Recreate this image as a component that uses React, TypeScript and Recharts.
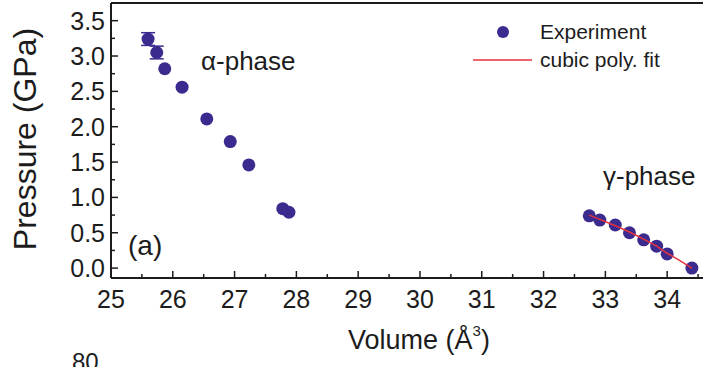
import React from "react";
import { ComposedChart, Scatter, XAxis, YAxis, ErrorBar, ReferenceLine } from "recharts";

const FONT = "'Liberation Sans', Arial, Helvetica, sans-serif";
const INK = "#1c1c1c";
const PURPLE = "#3b2b8f";
const RED = "#e8323c";

// alpha-phase experiment
const alphaVolume = [25.6, 25.74, 25.87, 26.15, 26.55, 26.93, 27.23, 27.78, 27.88];
const alphaPressure = [3.24, 3.05, 2.82, 2.56, 2.11, 1.79, 1.46, 0.84, 0.79];
const alphaError = [0.09, 0.09, 0, 0, 0, 0, 0, 0, 0];

// gamma-phase experiment
const gammaVolume = [32.74, 32.91, 33.16, 33.39, 33.62, 33.83, 34.0, 34.4];
const gammaPressure = [0.74, 0.68, 0.61, 0.5, 0.4, 0.31, 0.2, 0.0];
const gammaError = [0, 0, 0, 0, 0, 0, 0, 0];

// cubic polynomial fit (gamma phase)
const fitVolume = [32.74, 32.91, 33.16, 33.39, 33.62, 33.83, 34.0, 34.2, 34.4];
const fitPressure = [0.75, 0.69, 0.6, 0.51, 0.41, 0.31, 0.21, 0.11, 0.0];

const xTicks = [25, 25.5, 26, 26.5, 27, 27.5, 28, 28.5, 29, 29.5, 30, 30.5, 31, 31.5, 32, 32.5, 33, 33.5, 34, 34.5];
const yTicks = [0, 0.25, 0.5, 0.75, 1, 1.25, 1.5, 1.75, 2, 2.25, 2.5, 2.75, 3, 3.25, 3.5];
const xDomain = [25, 34.58];
const yDomain = [-0.14, 3.75];

const expData = [
  ...alphaVolume.map((v, i) => ({ v, p: alphaPressure[i], err: alphaError[i] })),
  ...gammaVolume.map((v, i) => ({ v, p: gammaPressure[i], err: gammaError[i] })),
];
const fitData = fitVolume.map((v, i) => ({ v, p: fitPressure[i] }));

function YTick(props: any) {
  const { x, y, payload } = props;
  const val = payload.value;
  const major = Math.abs(val * 2 - Math.round(val * 2)) < 1e-6;
  return (
    <g>
      <line x1={x} x2={x + (major ? 7 : 4)} y1={y} y2={y} stroke={INK} strokeWidth={1.5} />
      {major && (
        <text x={x - 6} y={y} dy="0.36em" textAnchor="end" fontSize={25} fontFamily={FONT} fill={INK}>
          {val.toFixed(1)}
        </text>
      )}
    </g>
  );
}

function XTick(props: any) {
  const { x, y, payload } = props;
  const val = payload.value;
  const major = Math.abs(val - Math.round(val)) < 1e-6;
  return (
    <g>
      <line x1={x} x2={x} y1={y} y2={y - (major ? 7 : 4)} stroke={INK} strokeWidth={1.5} />
      {major && (
        <text x={x} y={y + 30} textAnchor="middle" fontSize={25} fontFamily={FONT} fill={INK}>
          {String(val)}
        </text>
      )}
    </g>
  );
}

const Dot = (props: any) => <circle cx={props.cx} cy={props.cy} r={6.5} fill={PURPLE} />;
const NoDot = () => <g />;

export default function App() {
  return (
    <div style={{ position: "absolute", left: 0, top: 0, width: 703, height: 367, background: "#fff", overflow: "hidden" }}>
      <ComposedChart width={703} height={367} margin={{ top: 3, right: 0, bottom: 0, left: 0 }}>
        <XAxis
          dataKey="v"
          type="number"
          domain={xDomain}
          allowDataOverflow
          ticks={xTicks}
          interval={0}
          tickSize={0}
          tickMargin={0}
          tickLine={false}
          tick={<XTick />}
          height={89}
          axisLine={{ stroke: INK, strokeWidth: 2 }}
        />
        <YAxis
          dataKey="p"
          type="number"
          domain={yDomain}
          allowDataOverflow
          ticks={yTicks}
          interval={0}
          tickSize={0}
          tickMargin={0}
          tickLine={false}
          tick={<YTick />}
          width={111}
          axisLine={{ stroke: INK, strokeWidth: 2 }}
        />
        <ReferenceLine y={3.75} stroke={INK} strokeWidth={2} />
        <Scatter data={expData} dataKey="p" fill={PURPLE} shape={Dot} isAnimationActive={false}>
          <ErrorBar dataKey="err" direction="y" width={7} stroke={PURPLE} strokeWidth={1.5} isAnimationActive={false} />
        </Scatter>
        <Scatter
          data={fitData}
          dataKey="p"
          fill={RED}
          shape={NoDot}
          line={{ stroke: RED, strokeWidth: 1.5 }}
          lineType="joint"
          isAnimationActive={false}
        />
      </ComposedChart>
      <svg width={703} height={367} style={{ position: "absolute", left: 0, top: 0, pointerEvents: "none" }}>
        <text transform="translate(36,139) rotate(-90)" textAnchor="middle" fontSize={32} fontFamily={FONT} fill={INK}>
          Pressure (GPa)
        </text>
        <text x={419} y={349} textAnchor="middle" fontSize={27} fontFamily={FONT} fill={INK}>
          Volume (Å<tspan fontSize={15} dy={-13}>3</tspan>
          <tspan dy={13}>)</tspan>
        </text>
        <text x={201} y={70} fontSize={26} fontFamily={FONT} fill={INK}>α-phase</text>
        <text x={603} y={185} fontSize={26} fontFamily={FONT} fill={INK}>γ-phase</text>
        <text x={128} y={255} fontSize={28} fontFamily={FONT} fill={INK}>(a)</text>
        <circle cx={503} cy={32} r={6} fill={PURPLE} />
        <text x={540} y={39} fontSize={21} fontFamily={FONT} fill={INK}>Experiment</text>
        <line x1={473} x2={532} y1={60} y2={60} stroke={RED} strokeWidth={1.5} />
        <text x={540} y={67} fontSize={21} fontFamily={FONT} fill={INK}>cubic poly. fit</text>
        <text x={72} y={370} fontSize={24} fontFamily={FONT} fill={INK}>80</text>
      </svg>
    </div>
  );
}
